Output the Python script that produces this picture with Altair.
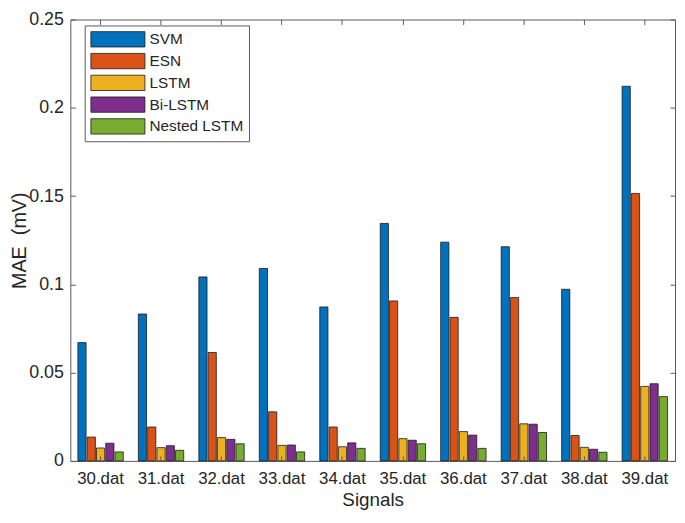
import altair as alt
import pandas as pd

signals = ["30.dat", "31.dat", "32.dat", "33.dat", "34.dat",
           "35.dat", "36.dat", "37.dat", "38.dat", "39.dat"]
methods = ["SVM", "ESN", "LSTM", "Bi-LSTM", "Nested LSTM"]
colors = ["#0072BD", "#D95319", "#EDB120", "#7E2F8E", "#77AC30"]

svm    = [0.0670, 0.0832, 0.1042, 0.1090, 0.0872, 0.1345, 0.1239, 0.1213, 0.0972, 0.2122]
esn    = [0.0135, 0.0192, 0.0614, 0.0278, 0.0192, 0.0906, 0.0813, 0.0925, 0.0144, 0.1515]
lstm   = [0.0073, 0.0075, 0.0132, 0.0088, 0.0080, 0.0126, 0.0166, 0.0210, 0.0077, 0.0422]
bilstm = [0.0100, 0.0086, 0.0122, 0.0090, 0.0102, 0.0117, 0.0146, 0.0208, 0.0066, 0.0437]
nested = [0.0051, 0.0060, 0.0097, 0.0051, 0.0071, 0.0097, 0.0071, 0.0161, 0.0049, 0.0364]

y_ticks = [0, 0.05, 0.1, 0.15, 0.2, 0.25]

rows = []
for m, vals in zip(methods, [svm, esn, lstm, bilstm, nested]):
    for s, v in zip(signals, vals):
        rows.append({"signal": s, "method": m, "mae": v})
df = pd.DataFrame(rows)

FONT = "Liberation Sans"
TXT = "#262626"
FRAME = "#595959"

x_scale = alt.Scale(domain=signals, paddingInner=0.25, paddingOuter=0.125)
y_scale = alt.Scale(domain=[0, 0.25], nice=False, zero=True)
xo_scale = alt.Scale(domain=methods, paddingInner=0.12, paddingOuter=0)

symbol_path = "M-1,-1H6.05V1H-1Z"

bars = alt.Chart(df).mark_bar(stroke="#1a1a1a", strokeWidth=0.8).encode(
    x=alt.X("signal:N", scale=x_scale, sort=signals,
            axis=alt.Axis(orient="bottom", title="Signals", offset=-5, tickSize=5,
                          domain=False, labelAngle=0, labelPadding=10, titlePadding=4,
                          labelFontSize=17, titleFontSize=19, zindex=1)),
    xOffset=alt.XOffset("method:N", scale=xo_scale, sort=methods),
    y=alt.Y("mae:Q", scale=y_scale,
            axis=alt.Axis(orient="left", values=y_ticks, format=".2~f",
                          title="MAE\u00a0 (mV)", offset=-5, tickSize=5, domain=False,
                          grid=False, labelPadding=7,
                          titleX=-46, titleY=223, titleAngle=270,
                          titleBaseline="bottom", titleAlign="center",
                          labelFontSize=18, titleFontSize=20, zindex=1)),
    color=alt.Color("method:N", scale=alt.Scale(domain=methods, range=colors),
                    sort=methods,
                    legend=alt.Legend(title=None, orient="none", legendX=14.5, legendY=6,
                                      direction="vertical",
                                      symbolType=symbol_path, symbolSize=240,
                                      symbolStrokeColor="#1a1a1a", symbolStrokeWidth=0.8,
                                      symbolOpacity=1,
                                      labelFont=FONT, labelFontSize=15.5, labelColor=TXT,
                                      labelOffset=43, labelLimit=300,
                                      rowPadding=3, padding=5.5,
                                      fillColor="white", strokeColor=FRAME)),
)

frame_ticks = alt.Chart(df).mark_bar(opacity=0).encode(
    x=alt.X("signal:N", scale=x_scale, sort=signals,
            axis=alt.Axis(orient="top", labels=False, title=None, offset=-5, tickSize=5,
                          domain=False, zindex=1)),
    xOffset=alt.XOffset("method:N", scale=xo_scale, sort=methods),
    y=alt.Y("mae:Q", scale=y_scale,
            axis=alt.Axis(orient="right", values=y_ticks, labels=False, title=None,
                          offset=-5, tickSize=5, domain=False, grid=False, zindex=1)),
)

chart = (
    alt.layer(bars, frame_ticks)
    .resolve_axis(x="independent", y="independent")
    .properties(width=611, height=446,
                autosize=alt.AutoSizeParams(type="none"),
                padding={"left": 63, "top": 9, "right": 2, "bottom": 50})
    .configure_view(stroke=FRAME, strokeWidth=1)
    .configure_axis(labelFont=FONT, titleFont=FONT, labelColor=TXT, titleColor=TXT,
                    tickColor=FRAME, tickWidth=1, titleFontWeight="normal")
)

chart.save("out.html", embed_options={"renderer": "svg", "actions": False})
